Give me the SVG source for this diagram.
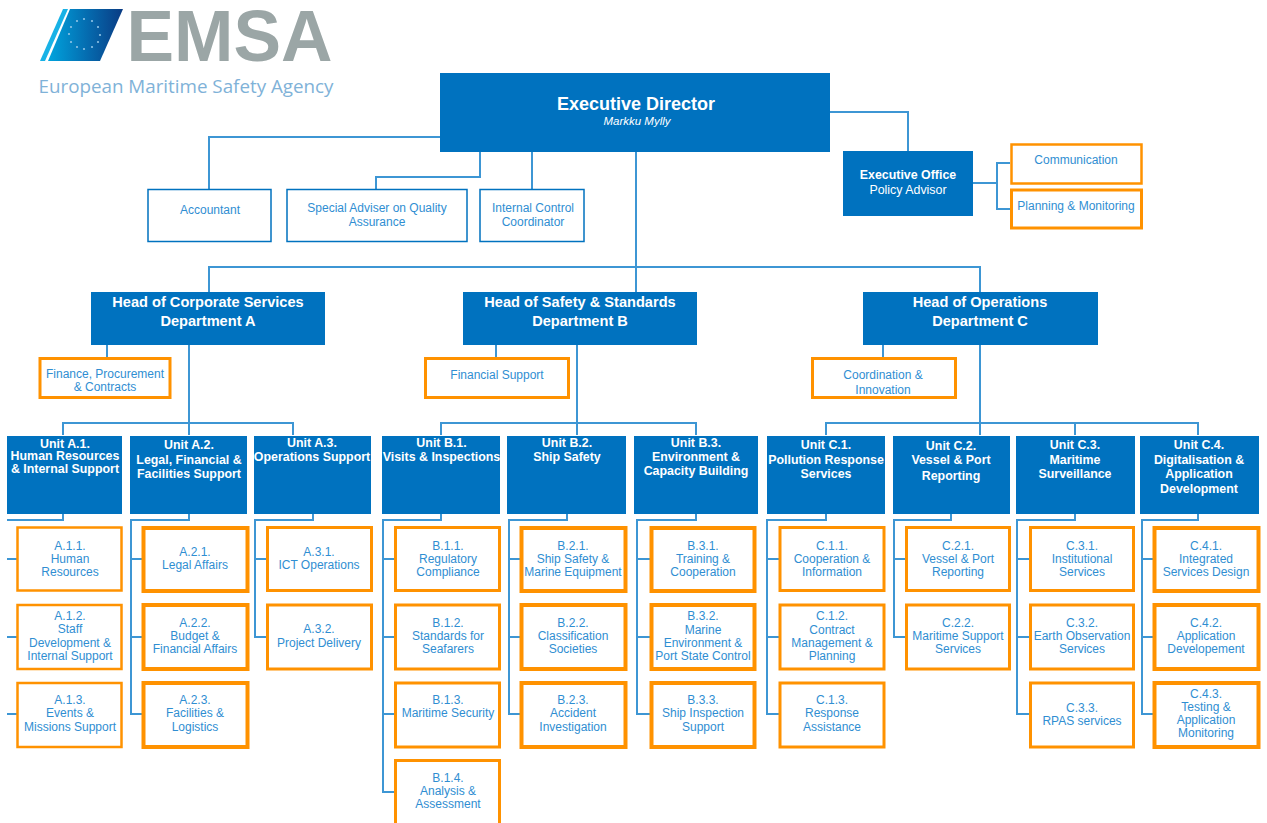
<svg xmlns="http://www.w3.org/2000/svg" width="1267" height="823" viewBox="0 0 1267 823">
<style>
text{font-family:"Liberation Sans",Arial,sans-serif;text-anchor:middle}
.b{fill:#0072bf}
.t{fill:#fff;stroke:#0072bf;stroke-width:1.5}
.o{fill:#fff;stroke:#ff9200;stroke-width:3}
.ot{fill:#fff;stroke:#ff9200;stroke-width:2.5}
.ok{fill:#fff;stroke:#ff9200;stroke-width:4}
.c{fill:none;stroke:#3d96d4;stroke-width:2}
.l{font-size:12px;fill:#2f8ed2}
.w{font-size:12.4px;font-weight:bold;fill:#fff}
.h{font-size:14.6px;font-weight:bold;fill:#fff}
</style>
<defs>
<linearGradient id="g" x1="0" x2="1" y1="0" y2="0"><stop offset="0" stop-color="#00a4de"/><stop offset="0.55" stop-color="#0569ad"/><stop offset="1" stop-color="#0a3b83"/></linearGradient>
</defs>
<g id="logo">
<polygon points="40,61 63,9 68,9 45,61" fill="#18b2e6"/>
<polygon points="48,61 70,9 123,9 100,61" fill="url(#g)"/>
<g fill="#8fc4e6"><circle cx="84" cy="19" r="1.1"/><circle cx="92" cy="21" r="1.1"/><circle cx="98" cy="27" r="1.1"/><circle cx="100" cy="35" r="1.1"/><circle cx="98" cy="42" r="1.1"/><circle cx="92" cy="47" r="1.1"/><circle cx="84" cy="49" r="1.1"/><circle cx="77" cy="47" r="1.1"/><circle cx="71" cy="42" r="1.1"/><circle cx="69" cy="34" r="1.1"/><circle cx="71" cy="27" r="1.1"/><circle cx="77" cy="21" r="1.1"/></g>
<text x="229.500" y="61" font-size="72" font-weight="bold" fill="#9ba6a6" textLength="206" lengthAdjust="spacingAndGlyphs">EMSA</text>
<text x="186" y="93" font-size="18" fill="#7fb2d8" textLength="295" lengthAdjust="spacingAndGlyphs" style="font-family:'Open Sans','Liberation Sans',sans-serif">European Maritime Safety Agency</text>
</g>
<g id="connectors">
<path class="c" d="M440 137H209V190M480 152V177H376V189M532 152V190M636 152V292M209 292V267H980V292M830 112H908V151"/>
<path class="c" d="M973 183H997M1010 163H997V209H1010"/>
<path class="c" d="M107 345V358M189 345V435M63 435V423H293V435"/>
<path class="c" d="M496 345V358M577 345V435M441 435V423H696V435"/>
<path class="c" d="M883 345V358M980 345V435M826 435V423H1198V435M1075 423V435"/>
<path class="c" d="M63 514V520H7M7 559H17M7 637H17M7 714H17"/>
<path class="c" d="M189 514V520H131V714H142M131 559H142M131 637H142"/>
<path class="c" d="M313 514V520H255V637H267M255 559H267"/>
<path class="c" d="M441 514V520H383V792H395M383 559H395M383 637H395M383 714H395"/>
<path class="c" d="M567 514V520H509V714H520M509 559H520M509 637H520"/>
<path class="c" d="M696 514V520H637V714H650M637 559H650M637 637H650"/>
<path class="c" d="M826 514V520H767V714H779M767 559H779M767 637H779"/>
<path class="c" d="M951 514V520H894V637H906M894 559H906"/>
<path class="c" d="M1075 514V520H1017V714H1030M1017 559H1030M1017 637H1030"/>
<path class="c" d="M1198 514V520H1142V714H1153M1142 559H1153M1142 637H1153"/>
</g>
<g id="exec-director"><rect class="b" x="440" y="73" width="390" height="79"/><text x="636" y="110" font-size="18" font-weight="bold" fill="#fff">Executive Director</text><text x="637" y="125" font-size="11.500" font-style="italic" fill="#fff">Markku Mylly</text></g>
<g id="accountant"><rect class="t" x="148" y="189.500" width="123" height="52"/><text class="l" x="210" y="214">Accountant</text></g>
<g id="special-adviser"><rect class="t" x="287" y="189.500" width="180" height="52"/><text class="l" x="377"><tspan x="377" y="212">Special Adviser on Quality</tspan><tspan x="377" y="226">Assurance</tspan></text></g>
<g id="internal-control"><rect class="t" x="480" y="189.500" width="104" height="52"/><text class="l"><tspan x="533" y="212">Internal Control</tspan><tspan x="533" y="226">Coordinator</tspan></text></g>
<g id="exec-office"><rect class="b" x="843" y="151" width="130" height="65"/><text class="w" x="908" y="179">Executive Office</text><text x="908" y="194" font-size="12.400" fill="#fff">Policy Advisor</text></g>
<g id="communication"><rect class="ot" x="1011.500" y="144.500" width="130" height="39"/><text class="l" x="1076" y="164">Communication</text></g>
<g id="planning"><rect class="o" x="1011.500" y="190" width="130" height="38"/><text class="l" x="1076" y="210">Planning &amp; Monitoring</text></g>
<g id="head-a"><rect class="b" x="91" y="292" width="234" height="53"/><text class="h"><tspan x="208" y="307">Head of Corporate Services</tspan><tspan x="208" y="326">Department A</tspan></text></g>
<g id="head-b"><rect class="b" x="463" y="292" width="234" height="53"/><text class="h"><tspan x="580" y="307">Head of Safety &amp; Standards</tspan><tspan x="580" y="326">Department B</tspan></text></g>
<g id="head-c"><rect class="b" x="863" y="292" width="235" height="53"/><text class="h"><tspan x="980" y="307">Head of Operations</tspan><tspan x="980" y="326">Department C</tspan></text></g>
<g id="finance"><rect class="o" x="40" y="358.500" width="130" height="39"/><text class="l"><tspan x="105" y="378">Finance, Procurement</tspan><tspan x="105" y="391">&amp; Contracts</tspan></text></g>
<g id="financial-support"><rect class="o" x="425.500" y="358.500" width="143" height="39"/><text class="l" x="497" y="379">Financial Support</text></g>
<g id="coordination"><rect class="o" x="812.500" y="358.500" width="143" height="39"/><text class="l"><tspan x="883" y="379">Coordination &amp;</tspan><tspan x="883" y="394">Innovation</tspan></text></g>
<g id="unit-a1"><rect class="b" x="7" y="436" width="115" height="78"/><text class="w"><tspan x="65" y="448">Unit A.1.</tspan><tspan x="65" y="460">Human Resources</tspan><tspan x="65" y="472.500">&amp; Internal Support</tspan></text></g>
<g id="unit-a2"><rect class="b" x="130" y="436" width="117" height="78"/><text class="w"><tspan x="189" y="449">Unit A.2.</tspan><tspan x="189" y="464">Legal, Financial &amp;</tspan><tspan x="189" y="478">Facilities Support</tspan></text></g>
<g id="unit-a3"><rect class="b" x="254" y="436" width="117" height="78"/><text class="w"><tspan x="312" y="447">Unit A.3.</tspan><tspan x="312" y="461">Operations Support</tspan></text></g>
<g id="unit-b1"><rect class="b" x="382" y="436" width="118" height="78"/><text class="w"><tspan x="441.500" y="447">Unit B.1.</tspan><tspan x="441.500" y="461">Visits &amp; Inspections</tspan></text></g>
<g id="unit-b2"><rect class="b" x="507" y="436" width="119" height="78"/><text class="w"><tspan x="567" y="447">Unit B.2.</tspan><tspan x="567" y="461">Ship Safety</tspan></text></g>
<g id="unit-b3"><rect class="b" x="634" y="436" width="124" height="78"/><text class="w"><tspan x="696" y="447">Unit B.3.</tspan><tspan x="696" y="461">Environment &amp;</tspan><tspan x="696" y="475">Capacity Building</tspan></text></g>
<g id="unit-c1"><rect class="b" x="767" y="436" width="118" height="78"/><text class="w"><tspan x="826" y="449">Unit C.1.</tspan><tspan x="826" y="464">Pollution Response</tspan><tspan x="826" y="478">Services</tspan></text></g>
<g id="unit-c2"><rect class="b" x="893" y="436" width="117" height="78"/><text class="w"><tspan x="951" y="450">Unit C.2.</tspan><tspan x="951" y="464">Vessel &amp; Port</tspan><tspan x="951" y="480">Reporting</tspan></text></g>
<g id="unit-c3"><rect class="b" x="1016" y="436" width="119" height="78"/><text class="w"><tspan x="1075" y="449">Unit C.3.</tspan><tspan x="1075" y="464">Maritime</tspan><tspan x="1075" y="478">Surveillance</tspan></text></g>
<g id="unit-c4"><rect class="b" x="1140" y="436" width="119" height="78"/><text class="w"><tspan x="1199" y="449">Unit C.4.</tspan><tspan x="1199" y="464">Digitalisation &amp;</tspan><tspan x="1199" y="478">Application</tspan><tspan x="1199" y="493">Development</tspan></text></g>
<g id="a11"><rect class="ot" x="17.500" y="527.500" width="104" height="63"/><text class="l"><tspan x="70" y="550">A.1.1.</tspan><tspan x="70" y="563">Human</tspan><tspan x="70" y="576">Resources</tspan></text></g>
<g id="a12"><rect class="ot" x="17.500" y="605" width="104" height="64"/><text class="l"><tspan x="70" y="620">A.1.2.</tspan><tspan x="70" y="633">Staff</tspan><tspan x="70" y="647">Development &amp;</tspan><tspan x="70" y="660">Internal Support</tspan></text></g>
<g id="a13"><rect class="ot" x="17.500" y="683" width="104" height="64"/><text class="l"><tspan x="70" y="704">A.1.3.</tspan><tspan x="70" y="717">Events &amp;</tspan><tspan x="70" y="731">Missions Support</tspan></text></g>
<g id="a21"><rect class="ok" x="143.500" y="528" width="104" height="63"/><text class="l"><tspan x="195" y="556">A.2.1.</tspan><tspan x="195" y="569">Legal Affairs</tspan></text></g>
<g id="a22"><rect class="ok" x="143.500" y="605" width="104" height="64"/><text class="l"><tspan x="195" y="627">A.2.2.</tspan><tspan x="195" y="640">Budget &amp;</tspan><tspan x="195" y="653">Financial Affairs</tspan></text></g>
<g id="a23"><rect class="ok" x="143.500" y="683" width="104" height="64"/><text class="l"><tspan x="195" y="704">A.2.3.</tspan><tspan x="195" y="717">Facilities &amp;</tspan><tspan x="195" y="731">Logistics</tspan></text></g>
<g id="a31"><rect class="o" x="267.500" y="527.500" width="104" height="63"/><text class="l"><tspan x="319" y="556">A.3.1.</tspan><tspan x="319" y="569">ICT Operations</tspan></text></g>
<g id="a32"><rect class="o" x="267.500" y="605" width="104" height="64"/><text class="l"><tspan x="319" y="633">A.3.2.</tspan><tspan x="319" y="647">Project Delivery</tspan></text></g>
<g id="b11"><rect class="o" x="395.500" y="527.500" width="104" height="63"/><text class="l"><tspan x="448" y="550">B.1.1.</tspan><tspan x="448" y="563">Regulatory</tspan><tspan x="448" y="576">Compliance</tspan></text></g>
<g id="b12"><rect class="o" x="395.500" y="605" width="104" height="64"/><text class="l"><tspan x="448" y="627">B.1.2.</tspan><tspan x="448" y="640">Standards for</tspan><tspan x="448" y="653">Seafarers</tspan></text></g>
<g id="b13"><rect class="o" x="395.500" y="683" width="104" height="64"/><text class="l"><tspan x="448" y="704">B.1.3.</tspan><tspan x="448" y="717">Maritime Security</tspan></text></g>
<g id="b14"><rect class="o" x="395.500" y="760.500" width="104" height="64"/><text class="l"><tspan x="448" y="782">B.1.4.</tspan><tspan x="448" y="795">Analysis &amp;</tspan><tspan x="448" y="808">Assessment</tspan></text></g>
<g id="b21"><rect class="ok" x="521.500" y="528" width="104" height="63"/><text class="l"><tspan x="573" y="550">B.2.1.</tspan><tspan x="573" y="563">Ship Safety &amp;</tspan><tspan x="573" y="576">Marine Equipment</tspan></text></g>
<g id="b22"><rect class="ok" x="521.500" y="605" width="104" height="64"/><text class="l"><tspan x="573" y="627">B.2.2.</tspan><tspan x="573" y="640">Classification</tspan><tspan x="573" y="653">Societies</tspan></text></g>
<g id="b23"><rect class="ok" x="521.500" y="683" width="104" height="64"/><text class="l"><tspan x="573" y="704">B.2.3.</tspan><tspan x="573" y="717">Accident</tspan><tspan x="573" y="731">Investigation</tspan></text></g>
<g id="b31"><rect class="ok" x="651.500" y="528" width="103" height="63"/><text class="l"><tspan x="703" y="550">B.3.1.</tspan><tspan x="703" y="563">Training &amp;</tspan><tspan x="703" y="576">Cooperation</tspan></text></g>
<g id="b32"><rect class="ok" x="651.500" y="605" width="103" height="64"/><text class="l"><tspan x="703" y="620">B.3.2.</tspan><tspan x="703" y="634">Marine</tspan><tspan x="703" y="647">Environment &amp;</tspan><tspan x="703" y="660">Port State Control</tspan></text></g>
<g id="b33"><rect class="ok" x="651.500" y="683" width="103" height="64"/><text class="l"><tspan x="703" y="704">B.3.3.</tspan><tspan x="703" y="717">Ship Inspection</tspan><tspan x="703" y="731">Support</tspan></text></g>
<g id="c11"><rect class="o" x="780" y="527.500" width="104" height="63"/><text class="l"><tspan x="832" y="550">C.1.1.</tspan><tspan x="832" y="563">Cooperation &amp;</tspan><tspan x="832" y="576">Information</tspan></text></g>
<g id="c12"><rect class="o" x="780" y="605" width="104" height="64"/><text class="l"><tspan x="832" y="620">C.1.2.</tspan><tspan x="832" y="634">Contract</tspan><tspan x="832" y="647">Management &amp;</tspan><tspan x="832" y="660">Planning</tspan></text></g>
<g id="c13"><rect class="o" x="780" y="683" width="104" height="64"/><text class="l"><tspan x="832" y="704">C.1.3.</tspan><tspan x="832" y="717">Response</tspan><tspan x="832" y="731">Assistance</tspan></text></g>
<g id="c21"><rect class="o" x="906.500" y="527.500" width="103" height="63"/><text class="l"><tspan x="958" y="550">C.2.1.</tspan><tspan x="958" y="563">Vessel &amp; Port</tspan><tspan x="958" y="576">Reporting</tspan></text></g>
<g id="c22"><rect class="o" x="906.500" y="605" width="103" height="64"/><text class="l"><tspan x="958" y="627">C.2.2.</tspan><tspan x="958" y="640">Maritime Support</tspan><tspan x="958" y="653">Services</tspan></text></g>
<g id="c31"><rect class="o" x="1030.500" y="527.500" width="103" height="63"/><text class="l"><tspan x="1082" y="550">C.3.1.</tspan><tspan x="1082" y="563">Institutional</tspan><tspan x="1082" y="576">Services</tspan></text></g>
<g id="c32"><rect class="o" x="1030.500" y="605" width="103" height="64"/><text class="l"><tspan x="1082" y="627">C.3.2.</tspan><tspan x="1082" y="640">Earth Observation</tspan><tspan x="1082" y="653">Services</tspan></text></g>
<g id="c33"><rect class="o" x="1030.500" y="683" width="103" height="64"/><text class="l"><tspan x="1082" y="712">C.3.3.</tspan><tspan x="1082" y="725">RPAS services</tspan></text></g>
<g id="c41"><rect class="ok" x="1154.500" y="528" width="104" height="63"/><text class="l"><tspan x="1206" y="550">C.4.1.</tspan><tspan x="1206" y="563">Integrated</tspan><tspan x="1206" y="576">Services Design</tspan></text></g>
<g id="c42"><rect class="ok" x="1154.500" y="605" width="104" height="64"/><text class="l"><tspan x="1206" y="627">C.4.2.</tspan><tspan x="1206" y="640">Application</tspan><tspan x="1206" y="653">Developement</tspan></text></g>
<g id="c43"><rect class="ok" x="1154.500" y="683" width="104" height="64"/><text class="l"><tspan x="1206" y="698">C.4.3.</tspan><tspan x="1206" y="711">Testing &amp;</tspan><tspan x="1206" y="724">Application</tspan><tspan x="1206" y="737">Monitoring</tspan></text></g>
</svg>
